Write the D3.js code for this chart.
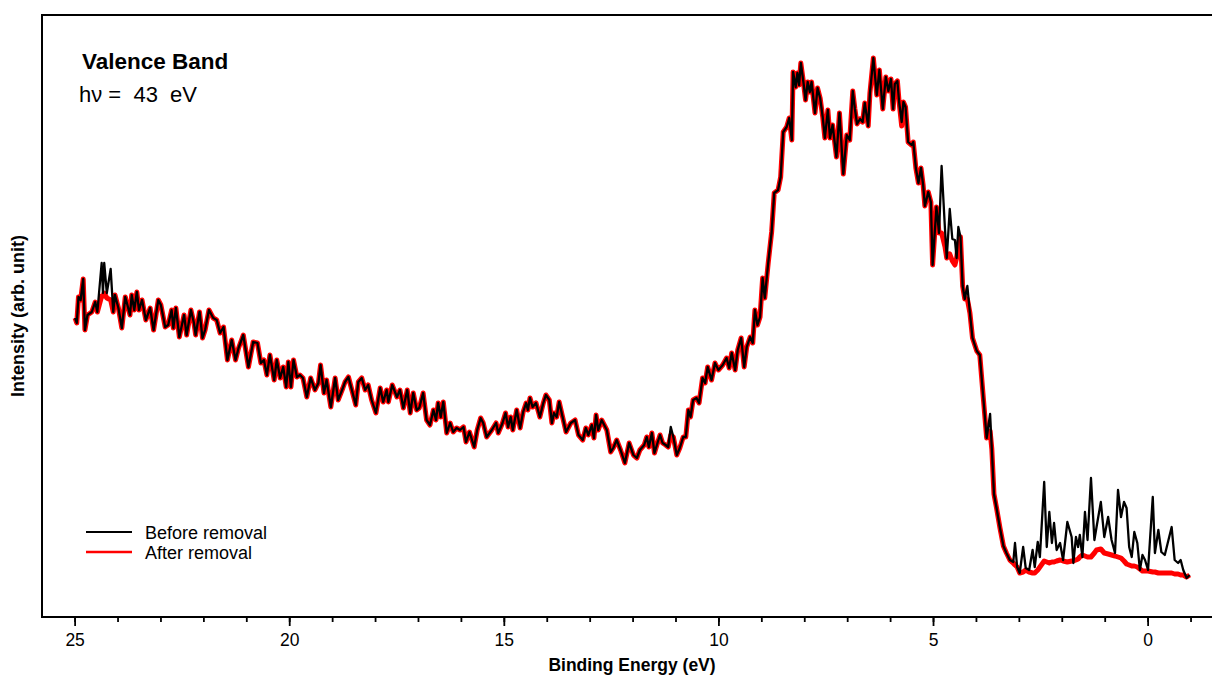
<!DOCTYPE html>
<html>
<head>
<meta charset="utf-8">
<script src="https://cdn.jsdelivr.net/npm/d3@7"></script>
<style>
  body { margin: 0; background: #fff; }
  text { font-family: "Liberation Sans", Arial, sans-serif; fill: #000; }
</style>
</head>
<body>
<div id="chart"></div>
<script>
// binding energy (eV) of each read point
var energy = [
  24.99,24.95,24.91,24.86,24.80,24.76,24.70,24.60,24.52,24.47,
  24.37,24.34,24.31,24.25,24.16,24.10,24.06,23.98,23.90,23.82,
  23.77,23.71,23.67,23.61,23.55,23.50,23.43,23.34,23.24,23.16,
  23.05,22.99,22.89,22.82,22.74,22.70,22.64,22.56,22.45,22.39,
  22.29,22.22,22.18,22.09,22.02,21.96,21.87,21.77,21.69,21.61,
  21.53,21.44,21.34,21.25,21.18,21.07,20.95,20.84,20.74,20.66,
  20.59,20.52,20.45,20.35,20.29,20.21,20.14,20.07,20.02,19.96,
  19.90,19.82,19.75,19.68,19.59,19.50,19.40,19.32,19.27,19.19,
  19.13,19.03,18.93,18.86,18.75,18.70,18.62,18.54,18.45,18.39,
  18.31,18.23,18.16,18.08,17.98,17.88,17.81,17.73,17.69,17.60,
  17.49,17.42,17.34,17.25,17.18,17.11,17.03,16.97,16.88,16.80,
  16.72,16.64,16.58,16.53,16.47,16.41,16.33,16.25,16.18,16.10,
  16.02,15.94,15.88,15.80,15.69,15.62,15.54,15.48,15.40,15.28,
  15.18,15.13,15.03,14.96,14.90,14.84,14.79,14.70,14.62,14.55,
  14.48,14.44,14.39,14.33,14.25,14.16,14.08,14.02,13.94,13.88,
  13.83,13.77,13.71,13.63,13.55,13.44,13.34,13.26,13.16,13.09,
  13.03,12.95,12.90,12.85,12.80,12.72,12.60,12.51,12.45,12.37,
  12.28,12.18,12.08,11.98,11.90,11.83,11.73,11.67,11.62,11.55,
  11.49,11.42,11.36,11.30,11.23,11.17,11.11,11.05,10.97,10.90,
  10.82,10.76,10.70,10.65,10.59,10.51,10.45,10.37,10.31,10.25,
  10.16,10.08,10.00,9.90,9.81,9.75,9.69,9.61,9.55,9.47,
  9.40,9.34,9.26,9.20,9.15,9.09,9.03,8.97,8.92,8.84,
  8.76,8.70,8.61,8.55,8.49,8.41,8.35,8.29,8.26,8.20,
  8.16,8.12,8.08,8.02,7.97,7.92,7.87,7.83,7.75,7.69,
  7.63,7.57,7.52,7.45,7.40,7.34,7.25,7.18,7.09,7.01,
  6.94,6.87,6.82,6.77,6.70,6.64,6.59,6.51,6.47,6.39,
  6.31,6.25,6.17,6.10,6.04,5.98,5.93,5.89,5.83,5.79,
  5.73,5.69,5.64,5.58,5.50,5.46,5.40,5.34,5.28,5.23,
  5.19,5.11,5.05,5.01,4.92,4.86,4.80,4.72,4.68,4.61,
  4.55,4.49,4.45,4.41,4.36,4.31,4.26,4.20,4.14,4.08,
  3.98,3.91,3.87,3.83,3.75,3.67,3.63,3.58,3.52,3.44,
  3.36,3.29,3.21,3.13,3.09,3.04,2.98,2.90,2.84,2.76,
  2.68,2.63,2.56,2.51,2.41,2.35,2.29,2.23,2.18,2.12,
  2.04,1.97,1.87,1.77,1.73,1.67,1.62,1.58,1.52,1.46,
  1.40,1.32,1.24,1.19,1.09,1.01,0.92,0.84,0.76,0.69,
  0.62,0.55,0.49,0.43,0.37,0.31,0.24,0.18,0.12,0.06,
  -0.01,-0.12,-0.17,-0.25,-0.32,-0.40,-0.56,-0.63,-0.71,-0.77,
  -0.83,-0.91,-0.98
];

// intensity before removal (arb. unit)
var before = [
  299,294,320,317,338,287,302,305,315,305,
  354,324,354,324,348,305,322,309,289,320,
  312,302,322,307,325,307,317,297,309,287,
  317,312,290,292,307,289,309,280,302,282,
  307,294,282,305,279,287,307,299,297,284,
  290,257,277,257,269,282,250,275,274,254,
  257,242,262,237,257,239,250,230,255,230,
  257,240,242,239,220,239,227,234,252,224,
  237,210,239,217,229,235,240,227,212,235,
  239,227,232,217,204,229,215,227,215,232,
  220,227,209,227,204,224,207,209,224,197,
  192,207,197,214,200,215,184,194,185,189,
  187,190,175,185,170,187,199,194,180,187,
  194,184,194,204,190,200,187,207,189,205,
  214,207,219,210,214,200,214,222,217,194,
  204,200,215,200,185,194,197,182,177,189,
  182,192,179,202,187,197,187,165,169,177,
  167,154,174,162,159,167,172,180,170,184,
  164,174,182,174,172,170,190,180,162,169,
  180,180,207,200,217,219,214,239,234,250,
  237,254,247,252,259,249,264,247,267,279,
  250,270,280,274,307,292,300,339,319,354,
  385,424,427,440,485,490,499,477,545,530,
  544,532,554,535,517,535,525,535,504,529,
  519,500,479,507,479,492,460,504,443,482,
  477,526,508,493,498,495,514,491,524,559,
  522,547,508,540,526,538,508,533,536,515,
  495,515,510,475,472,475,449,434,449,432,
  411,425,415,352,410,384,451,387,359,408,
  378,377,359,390,380,331,318,331,304,279,
  266,262,241,220,179,203,168,123,109,89,
  71,64,57,55,74,50,44,70,49,47,
  67,50,75,60,135,70,105,74,94,67,
  74,57,95,80,54,80,70,82,60,105,
  77,139,77,90,115,80,100,77,64,127,
  100,115,109,70,60,85,74,47,62,57,
  47,120,64,87,65,62,90,57,54,57,
  47,39,42
];

// intensity after removal (arb. unit)
var after = [
  299,294,320,317,338,287,302,305,315,305,
  321,321,324,319,317,305,322,309,289,320,
  312,302,322,307,325,307,317,297,309,287,
  317,312,290,292,307,289,309,280,302,282,
  307,294,282,305,279,287,307,299,297,284,
  290,257,277,257,269,282,250,275,274,254,
  257,242,262,237,257,239,250,230,255,230,
  257,240,242,239,220,239,227,234,252,224,
  237,210,239,217,229,235,240,227,212,235,
  239,227,232,217,204,229,215,227,215,232,
  220,227,209,227,204,224,207,209,224,197,
  192,207,197,214,200,215,184,194,185,189,
  187,190,175,185,170,187,199,194,180,187,
  194,184,194,204,190,200,187,207,189,205,
  214,207,219,210,214,200,214,222,217,194,
  204,200,215,200,185,194,197,182,177,189,
  182,192,179,202,187,197,187,165,169,177,
  167,154,174,162,159,167,172,180,170,184,
  164,174,182,174,172,170,182,180,162,169,
  180,180,207,200,217,219,214,239,234,250,
  237,254,247,252,259,249,264,247,267,279,
  250,270,280,274,307,292,300,339,319,354,
  385,424,427,440,485,490,499,477,545,530,
  544,532,554,535,517,535,525,535,504,529,
  519,500,479,507,479,492,460,504,443,482,
  477,526,508,493,498,495,514,491,524,559,
  522,547,508,540,526,538,508,533,536,515,
  491,515,510,475,472,475,449,434,449,432,
  411,425,415,352,410,384,384,370,359,363,
  356,352,359,373,380,331,318,318,304,279,
  266,262,241,220,179,186,168,123,109,89,
  71,64,57,54,52,50,44,45,47,45,
  44,44,47,50,56,55,54,55,55,56,
  57,56,55,56,56,57,58,60,62,61,
  60,60,64,67,68,64,63,62,61,60,
  59,56,53,52,51,51,50,48,46,46,
  46,45,45,44,44,44,44,43,43,42,
  42,40,42
];

var majorTicks = [25, 20, 15, 10, 5, 0];
var minorTicks = d3.range(-1, 26);
var seriesNames = ["Before removal", "After removal"];
var seriesColors = ["#000000", "#ff0000"];

var width = 1212, height = 675;
var plotLeft = 42, plotTop = 15, plotBottom = 617, plotRight = 1212;

var svg = d3.select("#chart").append("svg")
  .attr("width", width)
  .attr("height", height);

/* Scales */
var x = d3.scaleLinear().domain([25.76, -1.5]).range([plotLeft, plotRight]);
var y = d3.scaleLinear().domain([0, 602]).range([plotBottom, plotTop]);

svg.append("clipPath").attr("id", "clip")
  .append("rect")
  .attr("x", plotLeft).attr("y", plotTop)
  .attr("width", plotRight - plotLeft).attr("height", plotBottom - plotTop);

/* Lines: red (after) below, black (before) on top */
var afterData = energy.map((e, i) => ({e: e, v: after[i]}));
var beforeData = energy.map((e, i) => ({e: e, v: before[i]}));

var line = d3.line()
  .x(d => x(d.e))
  .y(d => y(d.v));

var lines = svg.append("g").attr("clip-path", "url(#clip)");

lines.append("path")
  .datum(afterData)
  .attr("d", line)
  .attr("fill", "none")
  .attr("stroke", seriesColors[1])
  .attr("stroke-width", 5)
  .attr("stroke-linejoin", "round");

lines.append("path")
  .datum(beforeData)
  .attr("d", line)
  .attr("fill", "none")
  .attr("stroke", seriesColors[0])
  .attr("stroke-width", 2.3)
  .attr("stroke-linejoin", "round");

/* Frame (right side runs off the picture) */
svg.append("rect")
  .attr("x", plotLeft).attr("y", plotTop)
  .attr("width", plotRight - plotLeft + 40)
  .attr("height", plotBottom - plotTop)
  .attr("fill", "none")
  .attr("stroke", "#000")
  .attr("stroke-width", 2);

/* Axis */
var minorAxis = d3.axisBottom(x).tickValues(minorTicks).tickSize(5).tickFormat("");
var majorAxis = d3.axisBottom(x).tickValues(majorTicks).tickSize(9).tickPadding(8)
  .tickFormat(d3.format("d"));

svg.append("g")
  .attr("transform", `translate(0, ${plotBottom})`)
  .call(minorAxis)
  .call(g => g.select(".domain").remove())
  .selectAll("line").attr("stroke-width", 1.8);

svg.append("g")
  .attr("transform", `translate(0, ${plotBottom})`)
  .call(majorAxis)
  .call(g => g.select(".domain").remove())
  .call(g => g.selectAll("line").attr("stroke-width", 1.8))
  .selectAll("text")
  .style("font-family", '"Liberation Sans", Arial, sans-serif')
  .style("font-size", "17.5px")
  .attr("fill", "#000");

svg.append("text")
  .attr("x", 632).attr("y", 671)
  .attr("text-anchor", "middle")
  .style("font-weight", "bold")
  .style("font-size", "17.5px")
  .text("Binding Energy (eV)");

svg.append("text")
  .attr("transform", "translate(24, 316) rotate(-90)")
  .attr("text-anchor", "middle")
  .style("font-weight", "bold")
  .style("font-size", "18px")
  .text("Intensity (arb. unit)");

/* Annotation */
svg.append("text")
  .attr("x", 82).attr("y", 69)
  .style("font-weight", "bold")
  .style("font-size", "22.5px")
  .text("Valence Band");

svg.append("text")
  .attr("x", 79).attr("y", 102)
  .attr("xml:space", "preserve")
  .style("white-space", "pre")
  .style("font-size", "22px")
  .text("h\u03bd =  43  eV");

/* Legend */
var legend = svg.append("g");
seriesNames.forEach(function(name, i) {
  var ly = 532 + i * 20;
  legend.append("line")
    .attr("x1", 86).attr("x2", 132)
    .attr("y1", ly).attr("y2", ly)
    .attr("stroke", seriesColors[i])
    .attr("stroke-width", i === 0 ? 2 : 2.5);
  legend.append("text")
    .attr("x", 145).attr("y", ly + 6.5)
    .style("font-size", "18px")
    .text(name);
});
</script>
</body>
</html>
